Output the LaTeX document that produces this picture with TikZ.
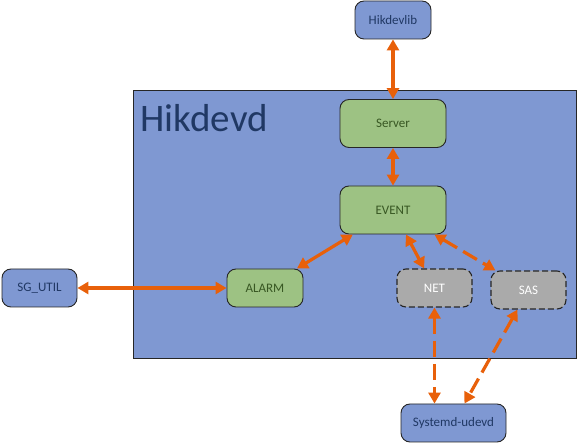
\documentclass[tikz,border=0pt]{standalone}
\usepackage{fontspec}
\setmainfont{Carlito}
\usetikzlibrary{arrows.meta}
\definecolor{boxblue}{RGB}{127,152,210}
\definecolor{boxgreen}{RGB}{157,194,131}
\definecolor{boxgray}{RGB}{170,170,170}
\definecolor{linkorange}{RGB}{232,96,10}
\definecolor{textblue}{RGB}{32,56,100}
\definecolor{textgreen}{RGB}{56,87,35}
\tikzset{
  block/.style={draw=black!85, line width=0.9pt, rounded corners=9pt, font=\fontsize{13}{15}\selectfont, minimum height=38pt, inner sep=0pt},
  ext/.style={block, fill=boxblue, text=textblue},
  mod/.style={block, fill=boxgreen, text=textgreen},
  opt/.style={block, fill=boxgray, text=white, line width=1.1pt, dash pattern=on 6pt off 3pt},
  link/.style={draw=linkorange, line width=3.2pt, {Triangle[length=11pt,width=12pt]}-{Triangle[length=11pt,width=12pt]}},
  dlink/.style={link, dash pattern=on 16pt off 7pt},
}
\begin{document}
\begin{tikzpicture}[x=1pt,y=-1pt]
    \useasboundingbox (0,0) rectangle (579,443);

    \node[draw=black!85, line width=0.9pt, fill=boxblue, anchor=north west, minimum width=443pt, minimum height=268pt, inner sep=0pt] (hikdevd) at (133,90) {};
    \node[anchor=west, text=textblue, font=\fontsize{39}{42}\selectfont] (title) at (137,118) {Hikdevd};

    \node[ext, minimum width=76pt] (lib) at (393,20) {Hikdevlib};
    \node[mod, minimum width=106pt, minimum height=48pt] (server) at (393,123.5) {Server};
    \node[mod, minimum width=106pt, minimum height=48pt] (event) at (393,210) {EVENT};
    \node[mod, minimum width=76pt] (alarm) at (265,288) {ALARM};
    \node[ext, minimum width=75pt] (sgutil) at (39.5,288) {SG\_UTIL};
    \node[opt, minimum width=75pt] (net) at (434.5,288) {NET};
    \node[opt, minimum width=75pt] (sas) at (528.5,290) {SAS};
    \node[ext, minimum width=105pt] (udevd) at (453.5,423) {Systemd-udevd};

    \draw[link] (lib) -- (server);
    \draw[link] (server) -- (event);
    \draw[link] (event) -- (alarm);
    \draw[link] (event) -- (net);
    \draw[dlink] (event) -- (sas);
    \draw[link] (sgutil) -- (alarm);
    \draw[dlink] (net) -- (net |- udevd.north);
    \draw[dlink] (sas) -- (udevd);

\end{tikzpicture}
\end{document}
